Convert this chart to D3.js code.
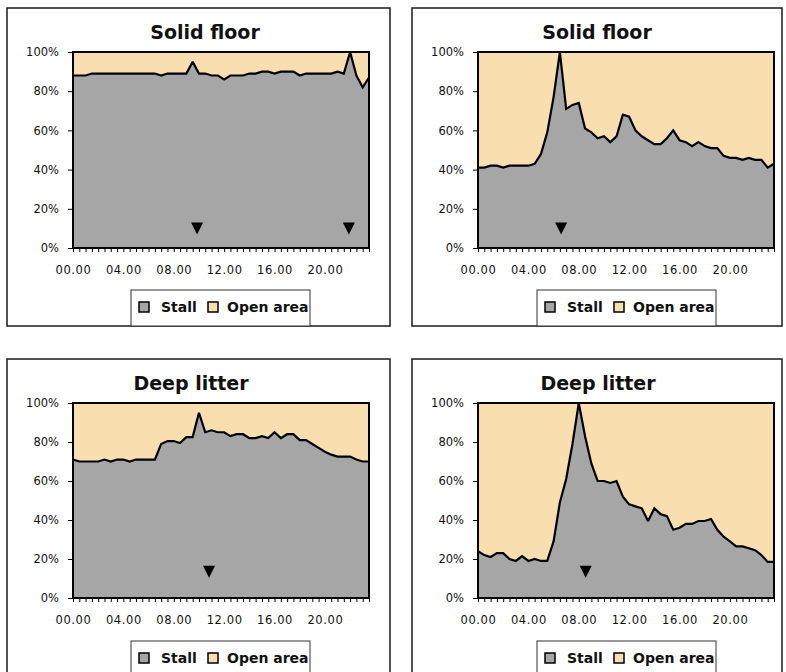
<!DOCTYPE html>
<html><head><meta charset="utf-8">
<script src="https://cdn.jsdelivr.net/npm/d3@7/dist/d3.min.js"></script>
<style>body{margin:0;background:#fff}svg{display:block}</style>
</head><body>
<svg id="c" width="786" height="672"></svg>
<script>
const categories = ["00.00","00.30","01.00","01.30","02.00","02.30","03.00","03.30","04.00","04.30","05.00","05.30",
  "06.00","06.30","07.00","07.30","08.00","08.30","09.00","09.30","10.00","10.30","11.00","11.30",
  "12.00","12.30","13.00","13.30","14.00","14.30","15.00","15.30","16.00","16.30","17.00","17.30",
  "18.00","18.30","19.00","19.30","20.00","20.30","21.00","21.30","22.00","22.30","23.00","23.30"];
const tickLabels = ["00.00","04.00","08.00","12.00","16.00","20.00"];
const yTicks = [0,20,40,60,80,100];
const seriesNames = ["Stall","Open area"];
const titles = ["Solid floor","Solid floor","Deep litter","Deep litter"];

// % of animals in stall (open area = 100 - stall)
const stallSolidA = [88,88,88,89,89,89,89,89,89,89,89,89,89,89,88,89,89,89,89,95,89,89,88,88,
  86,88,88,88,89,89,90,90,89,90,90,90,88,89,89,89,89,89,90,89,100,88,82,87];
const stallSolidB = [41,41,42,42,41,42,42,42,42,43,48,59,77,100,71,73,74,61,59,56,57,54,57,68,
  67,60,57,55,53,53,56,60,55,54,52,54,52,51,51,47,46,46,45,46,45,45,41,43];
const stallDeepA = [71,70,70,70,70,71,70,71,71,70,71,71,71,71,79,80.5,80.5,79.5,82.5,82.5,95,85,86,85,
  85,83,84,84,82,82,83,82,85,82,84,84,81,81,79,77,75,73.5,72.5,72.5,72.5,71,70,70];
const stallDeepB = [24,22,21,23,23,20,19,21.5,19,20,19,19,29,49,61,79,100,83,69,60,60,59,60,52,
  48,47,46,39.5,46,43,42,35,36,38,38,39.5,39.5,40.5,35,31.5,29,26.5,26.5,25.5,24.5,22,18.5,18.5];

// event markers (hour of day) and their level (%)
const eventsSolidA = [9.85, 21.9];
const eventsSolidB = [6.6];
const eventsDeepA = [10.8];
const eventsDeepB = [8.55];
const eventLevels = [10, 10, 13.5, 13.5];

const colors = {stall:"#a6a6a6", open:"#f9deaf"};

const panels = [
  {title:titles[0], stall:stallSolidA, events:eventsSolidA, lvl:eventLevels[0], box:[7,8,383,318], plot:[73,369,52,248], tx:205, ty:39, lg:[131,290]},
  {title:titles[1], stall:stallSolidB, events:eventsSolidB, lvl:eventLevels[1], box:[412,8,370,318], plot:[478,774,52,248], tx:597, ty:39, lg:[537,290]},
  {title:titles[2], stall:stallDeepA, events:eventsDeepA, lvl:eventLevels[2], box:[7,359,383,330], plot:[73,369,403,598], tx:191, ty:390, lg:[131,641]},
  {title:titles[3], stall:stallDeepB, events:eventsDeepB, lvl:eventLevels[3], box:[412,359,370,330], plot:[478,774,403,598], tx:598, ty:390, lg:[537,641]}
];

const svg = d3.select("#c");
const FONT = "'DejaVu Sans', Verdana, sans-serif";

panels.forEach(p => {
  const g = svg.append("g");
  g.append("rect").attr("x",p.box[0]).attr("y",p.box[1]).attr("width",p.box[2]).attr("height",p.box[3])
    .attr("fill","#fff").attr("stroke","#1a1a1a").attr("stroke-width",1.5);

  const [L,R,T,B] = p.plot;
  const x = d3.scalePoint(categories,[L,R]);
  const xh = d3.scaleLinear([0,23.5],[L,R]);
  const y = d3.scaleLinear([0,100],[B,T]);
  const rows = categories.map((c,i)=>({c, v:p.stall[i]}));

  g.append("path").datum(rows).attr("fill",colors.open)
    .attr("d", d3.area().x(d=>x(d.c)).y0(d=>y(d.v)).y1(()=>y(100)));
  g.append("path").datum(rows).attr("fill",colors.stall)
    .attr("d", d3.area().x(d=>x(d.c)).y0(()=>y(0)).y1(d=>y(d.v)));
  g.append("path").datum(rows).attr("fill","none").attr("stroke","#000").attr("stroke-width",2.2)
    .attr("stroke-linejoin","miter").attr("stroke-miterlimit",2)
    .attr("d", d3.line().x(d=>x(d.c)).y(d=>y(d.v)));

  g.append("rect").attr("x",L).attr("y",T).attr("width",R-L).attr("height",B-T)
    .attr("fill","none").attr("stroke","#000").attr("stroke-width",2);

  // event triangles
  g.selectAll("path.ev").data(p.events).join("path").attr("class","ev")
    .attr("transform", d=>`translate(${xh(d)},${y(p.lvl)})`)
    .attr("d","M-6,-6L6,-6L0,6Z").attr("fill","#000");

  // y axis
  const ya = g.append("g").attr("transform",`translate(${L},0)`)
    .call(d3.axisLeft(y).tickValues(yTicks).tickFormat(d=>d+"%").tickSize(5).tickPadding(9));
  ya.select(".domain").remove();
  ya.selectAll("line").attr("stroke","#000");
  ya.selectAll("text").attr("font-family",FONT).attr("font-size",11.5).attr("fill","#111");

  // x axis
  const xa = g.append("g").attr("transform",`translate(0,${B})`)
    .call(d3.axisBottom(x).tickSize(4).tickPadding(14).tickFormat(d=>tickLabels.includes(d)?d:""));
  xa.select(".domain").remove();
  xa.selectAll("line").attr("stroke","#000");
  xa.selectAll("text").attr("font-family",FONT).attr("font-size",11.5).attr("letter-spacing","0.6px").attr("fill","#111");

  // title
  g.append("text").attr("x",p.tx).attr("y",p.ty).attr("text-anchor","middle")
    .attr("font-family",FONT).attr("font-weight","bold").attr("font-size",19).attr("fill","#111").text(p.title);

  // legend
  const [lx,ly] = p.lg;
  const bottom = p.box[1]+p.box[3];
  g.append("rect").attr("x",lx).attr("y",ly).attr("width",179).attr("height",bottom-ly)
    .attr("fill","#fff").attr("stroke","#333").attr("stroke-width",1);
  const items = [{n:seriesNames[0], c:colors.stall, sx:8, tx:30},{n:seriesNames[1], c:colors.open, sx:77, tx:96}];
  items.forEach(it=>{
    g.append("rect").attr("x",lx+it.sx).attr("y",ly+12).attr("width",10).attr("height",10)
      .attr("fill",it.c).attr("stroke","#000").attr("stroke-width",1.5);
    g.append("text").attr("x",lx+it.tx).attr("y",ly+22).attr("font-family",FONT).attr("font-weight","bold")
      .attr("font-size",14).attr("fill","#111").text(it.n);
  });
});
</script>
</body></html>
